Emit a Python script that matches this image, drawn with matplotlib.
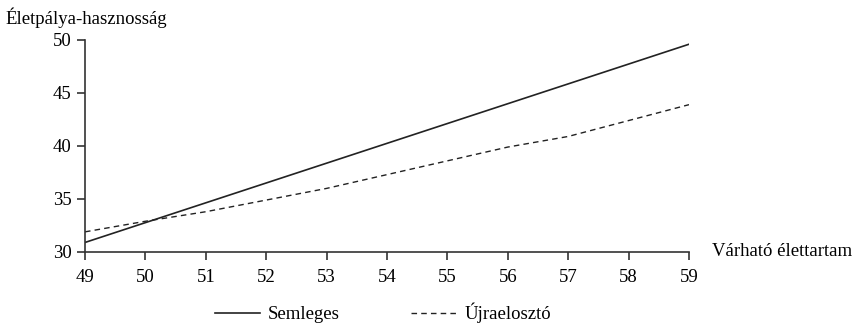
import matplotlib.pyplot as plt

plt.rcParams['font.family'] = ['Liberation Serif', 'DejaVu Serif']

# Data
years = [49, 50, 51, 52, 53, 54, 55, 56, 57, 58, 59]
semleges = [30.9, 32.77, 34.64, 36.51, 38.38, 40.25, 42.12, 43.99, 45.86, 47.73, 49.6]
ujraeloszto = [31.9, 32.9, 33.8, 34.9, 36.0, 37.3, 38.6, 39.9, 40.9, 42.4, 43.9]
y_ticks = [30, 35, 40, 45, 50]

fs = 13.5

fig = plt.figure(figsize=(8.55, 3.28), dpi=100)
ax = fig.add_axes([85 / 855, 1 - 252 / 328, (689 - 85) / 855, (252 - 40) / 328])

ax.plot(years, semleges, color='#222222', lw=1.2, label='Semleges')
ax.plot(years, ujraeloszto, color='#222222', lw=1.0, ls=(0, (4, 3)), label='Újraelosztó')

ax.set_xlim(49, 59)
ax.set_ylim(30, 50)
ax.set_xticks(years)
ax.set_yticks(y_ticks)
for s in ['top', 'right']:
    ax.spines[s].set_visible(False)
for s in ['left', 'bottom']:
    ax.spines[s].set_linewidth(1.2)
    ax.spines[s].set_color('#333333')
ax.tick_params(direction='out', length=6, width=1.2, color='#333333',
               labelsize=fs)
ax.tick_params(axis='x', pad=6)
ax.tick_params(axis='y', pad=3.5)

fig.text(5 / 855, 1 - 18 / 328, 'Életpálya-hasznosság', fontsize=fs,
         ha='left', va='center')
fig.text(712 / 855, 1 - 251 / 328, 'Várható élettartam', fontsize=fs,
         ha='left', va='center')

# Legend
leg = fig.legend(loc='center', bbox_to_anchor=(0.448, 1 - 313 / 328), ncol=2,
                 frameon=False, fontsize=fs, handlelength=2.4,
                 columnspacing=3.8, handletextpad=0.45)

fig.savefig('out.png', dpi=100)
